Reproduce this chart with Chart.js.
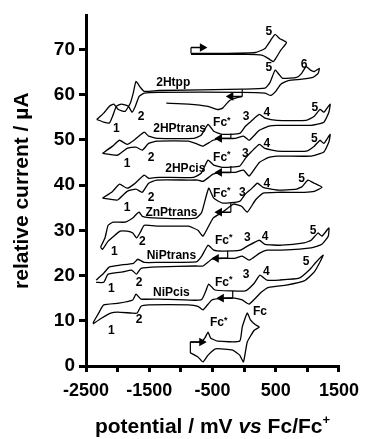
<!DOCTYPE html>
<html>
<head>
<meta charset="utf-8">
<script src="https://cdn.jsdelivr.net/npm/chart.js@4.4.1/dist/chart.umd.min.js"></script>
<style>html,body{margin:0;padding:0;background:#fff}</style>
</head>
<body>
<canvas id="cv" width="367" height="439"></canvas>
<script>
// potentials in mV vs Fc/Fc+, currents in uA (offset per trace)
const topX = [-840,-260,180,330,420,490,560,670,580,500,460,380,280,50,-840];
const topY = [69.1,69.1,69.3,70.2,72.0,73.3,72.4,71.5,69.8,68.0,67.3,68.0,68.7,68.9,68.9];

const htppX = [-2330,-2220,-2130,-2060,-1990,-1880,-1800,-1750,-1710,-1640,-1580,-1350,-30,330,410,490,550,610,830,910,980,1050,1110,1190,
               1170,1090,910,700,580,500,420,330,-30,-1350,-1580,-1660,-1720,-1770,-1830,-1940,-2020,-2080,-2130,-2220,-2330];
const htppY = [54.5,55.9,57.4,57.9,56.7,56.3,58.1,60.5,62.9,61.6,60.7,60.9,61.2,61.4,62.7,65.4,64.5,63.6,63.8,64.7,66.2,65.4,65.1,65.8,
               64.7,63.8,63.4,63.1,62.3,60.7,59.8,60.3,60.5,60.5,60.3,59.6,57.4,56.1,57.4,57.9,57.4,55.2,53.7,53.9,54.5];
const htppTailX = [-1230,-880,-570,-420,-340,-230,-100,-30];
const htppTailY = [58.1,57.9,57.4,56.7,57.0,58.7,59.4,59.6];

const transX = [-2240,-2080,-1970,-1850,-1740,-1580,-1510,-1350,-800,-680,-570,-480,-340,-70,20,110,240,330,520,980,1110,1200,1260,1360,
                1340,1260,1060,520,390,240,80,-10,-140,-340,-490,-650,-730,-880,-1380,-1510,-1610,-1710,-1850,-2000,-2130,-2240];
const transY = [47.0,48.6,49.9,49.0,49.9,51.7,50.8,50.3,50.3,51.0,53.4,51.9,51.2,51.4,53.0,54.1,55.6,54.8,54.3,54.3,55.2,56.7,56.1,57.9,
                56.1,53.9,53.2,53.2,53.0,52.1,49.9,50.8,50.3,50.3,49.9,48.6,49.0,49.7,49.7,49.2,47.7,48.4,48.1,46.6,46.8,47.0];

const cisX = [-2240,-2080,-1970,-1850,-1740,-1580,-1510,-1350,-800,-680,-570,-480,-340,-70,20,110,240,330,520,980,1110,1200,1260,1360,
              1340,1260,1060,520,390,240,80,-10,-140,-340,-490,-650,-730,-880,-1380,-1510,-1610,-1710,-1850,-2000,-2130,-2240];
const cisY = [37.1,38.6,40.2,39.3,40.2,42.2,41.5,41.7,41.7,42.6,45.5,44.4,43.9,44.2,45.9,47.3,49.0,48.1,47.5,47.5,48.6,49.9,49.2,51.2,
              49.5,47.3,46.4,46.4,46.1,45.0,42.0,43.3,42.8,42.8,42.4,40.8,41.1,41.1,41.1,40.4,38.4,39.1,38.6,36.7,36.9,37.1];

const znX = [-2270,-2200,-2150,-2070,-1880,-1760,-1700,-1660,-1610,-1350,-760,-670,-560,-480,-340,-70,20,110,210,300,520,830,920,1010,1110,1230,
             1110,950,520,300,180,50,-40,-170,-340,-490,-650,-730,-880,-1350,-1580,-1640,-1700,-1760,-1850,-1960,-2150,-2240,-2270];
const znY = [26.3,28.3,31.1,31.8,31.8,32.7,33.6,34.0,33.1,32.7,32.7,34.0,39.3,37.1,36.0,36.4,38.0,39.1,40.4,39.5,38.9,39.1,39.7,41.1,40.4,39.5,
             38.6,38.4,38.4,38.2,36.7,34.0,35.3,35.8,34.0,32.7,28.7,30.0,30.9,30.9,31.1,29.6,28.3,29.4,29.8,29.8,27.6,25.8,26.3];

const niTransX = [-2340,-2220,-2130,-1960,-1750,-1680,-1580,-1350,-760,-670,-570,-480,-340,-60,50,240,330,590,950,1060,1170,1230,1340,
                  1330,1230,1060,590,360,240,80,-30,-150,-340,-510,-650,-760,-1350,-1630,-1700,-1780,-1920,-2150,-2220,-2340];
const niTransY = [19.0,20.5,21.9,22.3,22.7,23.6,22.9,22.9,23.0,24.3,26.7,25.6,25.4,25.6,26.5,27.8,26.9,26.7,27.2,27.8,29.4,28.7,30.5,
                  28.7,26.9,26.1,25.6,25.6,24.9,23.4,24.3,23.8,23.8,23.6,22.1,22.1,21.9,21.6,20.3,21.2,20.8,20.3,18.5,18.5];

const niCisX = [-2390,-2300,-2220,-1980,-1760,-1710,-1630,-1350,-680,-600,-560,-460,-210,20,160,250,360,560,870,1030,1140,1250,
                1200,1110,950,670,390,270,80,-30,-150,-320,-510,-650,-730,-880,-1510,-1630,-1690,-1770,-2000,-2110,-2250,-2390];
const niCisY = [9.5,11.7,13.5,13.9,14.6,15.9,14.8,14.8,14.6,16.8,18.1,16.8,16.6,16.6,18.3,20.1,19.0,19.0,19.4,21.2,23.0,24.5,
                23.0,20.8,18.8,17.9,17.4,16.3,13.7,14.6,15.0,15.0,14.6,12.4,13.2,13.5,13.5,13.2,11.7,11.7,11.9,11.7,10.6,9.3];

const fcX = [-850,-680,-620,-570,-530,-420,-70,-30,50,100,180,240,160,50,-10,-70,-180,-450,-570,-650,-730,-850];
const fcY = [5.3,5.3,6.2,7.5,6.2,5.5,5.5,8.6,11.7,10.2,9.1,8.6,7.9,5.3,0.9,2.4,3.5,3.8,2.4,0.9,2.0,2.9];

// scan direction arrows and their start brackets
const arrowTail = [-840,-30,-210,-210,-210,-260,-180,-850];
const arrowHead = [-660,-210,-390,-390,-390,-440,-360,-670];
const arrowY = [70.4,59.6,50.3,42.8,34.0,23.8,15.0,5.3];
const bracketTop = [70.4,61.2,51.4,44.2,36.2,25.5,16.6,5.3];
const bracketBottom = [69.1,59.6,50.3,42.8,34.0,23.8,15.0,2.9];

// text annotations
const labelText = ['5','5','6','2Htpp','1','2',
  '2HPtrans','Fc*','3','4','5','1','2',
  '2HPcis','Fc*','3','4','5','1','2',
  'ZnPtrans','Fc*','3','4','5','1','2',
  'NiPtrans','Fc*','3','4','5','1','2',
  'NiPcis','Fc*','3','4','5','1','2',
  'Fc*','Fc'];
const labelX = [390,390,950,-1120,-2020,-1630,
  -1020,-340,30,360,1120,-1850,-1470,
  -930,-340,20,360,1110,-1850,-1470,
  -1150,-340,-30,360,910,-2050,-1610,
  -1150,-310,50,330,1090,-2100,-1660,
  -1150,-310,30,350,980,-2100,-1660,
  -390,250];
const labelY = [73.8,66.0,66.5,62.7,52.5,55.0,
  52.5,53.7,55.0,55.9,57.2,44.8,46.1,
  43.7,46.1,47.0,49.2,50.3,34.9,37.3,
  33.8,38.2,38.4,40.4,41.5,25.2,27.4,
  24.3,27.8,28.3,28.5,30.0,17.2,18.5,
  16.1,18.5,20.1,20.8,23.0,7.9,10.2,
  9.5,11.9];

const FONT = '"Liberation Sans", Arial, Helvetica, sans-serif';
const zip = (xs, ys) => xs.map((x, i) => ({x: x, y: ys[i]}));

function trace(xs, ys) {
    return {
        data: zip(xs, ys),
        showLine: true,
        borderColor: '#000',
        borderWidth: 1.3,
        pointRadius: 0,
        tension: 0.15
    };
}

var datasets = [
    trace(topX, topY),
    trace(htppX, htppY),
    trace(htppTailX, htppTailY),
    trace(transX, transY),
    trace(cisX, cisY),
    trace(znX, znY),
    trace(niTransX, niTransY),
    trace(niCisX, niCisY),
    trace(fcX, fcY)
];

for (var i = 0; i < arrowTail.length; i++)
    {
        var right = arrowHead[i] > arrowTail[i];
        datasets.push({
            data: [{x: arrowTail[i], y: arrowY[i]}, {x: arrowHead[i], y: arrowY[i]}],
            showLine: true,
            borderColor: '#000',
            borderWidth: 1.5,
            pointRadius: [0, 3.5],
            pointStyle: 'triangle',
            pointRotation: right ? 90 : -90,
            pointBackgroundColor: '#000',
            pointBorderColor: '#000',
            tension: 0
        });
        datasets.push({
            data: [{x: arrowTail[i], y: bracketTop[i]}, {x: arrowTail[i], y: bracketBottom[i]}],
            showLine: true,
            borderColor: '#000',
            borderWidth: 1.2,
            pointRadius: 0,
            tension: 0
        });
    };

const textPlugin = {
    id: 'cvText',
    afterDatasetsDraw(chart) {
        const ctx = chart.ctx;
        const xs = chart.scales.x, ys = chart.scales.y;
        ctx.save();
        ctx.fillStyle = '#000';
        ctx.textBaseline = 'middle';
        labelText.forEach((t, i) => {
            const px = xs.getPixelForValue(labelX[i]);
            const py = ys.getPixelForValue(labelY[i]);
            ctx.font = 'bold 12px ' + FONT;
            if (t.endsWith('*')) {
                const base = t.slice(0, -1);
                const w = ctx.measureText(base).width;
                ctx.textAlign = 'left';
                ctx.fillText(base, px - (w + 5) / 2, py);
                ctx.font = 'bold 9px ' + FONT;
                ctx.fillText('*', px - (w + 5) / 2 + w, py - 3);
            } else {
                ctx.textAlign = 'center';
                ctx.fillText(t, px, py);
            }
        });

        // x-axis title with italic "vs" and superscript +
        const parts = [
            ['potential / mV ', 'bold 21px ' + FONT, 0],
            ['vs', 'italic bold 21px ' + FONT, 0],
            [' Fc/Fc', 'bold 21px ' + FONT, 0],
            ['+', 'bold 13px ' + FONT, -9]
        ];
        let total = 0;
        parts.forEach(p => { ctx.font = p[1]; total += ctx.measureText(p[0]).width; });
        let cx = (chart.chartArea.left + chart.chartArea.right) / 2 - total / 2;
        ctx.textAlign = 'left';
        ctx.textBaseline = 'alphabetic';
        parts.forEach(p => {
            ctx.font = p[1];
            ctx.fillText(p[0], cx, 433 + p[2]);
            cx += ctx.measureText(p[0]).width;
        });
        ctx.restore();
    }
};

var chart = new Chart(document.getElementById('cv'),
    {
    type: 'scatter',
    data: { datasets: datasets },
    options:
    {
        responsive: false,
        animation: false,
        layout: { padding: { top: 15, right: 24, left: 0, bottom: 0 } },
        plugins: { legend: { display: false }, tooltip: { enabled: false } },
        scales:
        {
            x:
            {
                type: 'linear',
                min: -2500,
                max: 1500,
                ticks: {
                    stepSize: 500,
                    autoSkip: false,
                    maxRotation: 0,
                    padding: 8,
                    color: '#000',
                    font: { size: 18, weight: 'bold', family: FONT },
                    callback: v => ((v + 2500) % 1000 === 0 ? String(v) : '')
                },
                grid: { drawOnChartArea: false, drawTicks: true, tickLength: 6, color: '#000', lineWidth: 3 },
                border: { color: '#000', width: 3 },
                afterFit: s => { s.height = 73; }
            },
            y:
            {
                min: 0,
                max: 77.5,
                ticks: {
                    stepSize: 10,
                    includeBounds: false,
                    padding: 4,
                    color: '#000',
                    font: { size: 19, weight: 'bold', family: FONT }
                },
                grid: { drawOnChartArea: false, drawTicks: true, tickLength: 7, color: '#000', lineWidth: 3 },
                border: { color: '#000', width: 3 },
                title: {
                    display: true,
                    text: 'relative current / \u00b5A',
                    color: '#000',
                    font: { size: 21, weight: 'bold', family: FONT },
                    padding: { top: 10, bottom: 0 }
                },
                afterFit: s => { s.width = 86; }
            }
        }
    },
    plugins: [textPlugin]
});
</script>
</body>
</html>
